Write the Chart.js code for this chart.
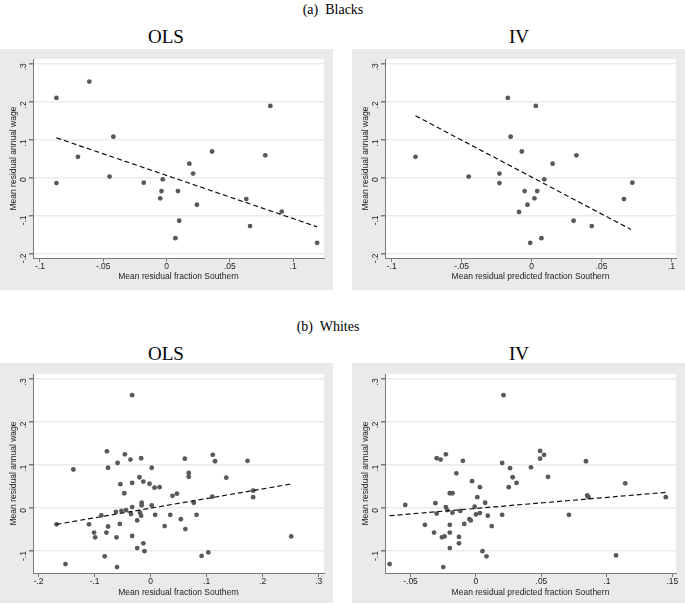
<!DOCTYPE html>
<html>
<head>
<meta charset="utf-8">
<script src="https://cdn.jsdelivr.net/npm/chart.js@4.4.1/dist/chart.umd.min.js"></script>
<style>
  body { margin: 0; background: #fff; }
  #page { position: relative; width: 685px; height: 606px; overflow: hidden; }
  canvas { position: absolute; background: #eaeaea; }
  .titre { position: absolute; font-family: "Liberation Serif", "DejaVu Serif", serif; color: #000; white-space: nowrap; transform: translate(-50%, -50%); }
  .grand { font-size: 14px; }
  .panel { font-size: 19px; }
</style>
</head>
<body>
<div id="page">
  <div class="titre grand" style="left:333px; top:10px;">(a)&nbsp; Blacks</div>
  <div class="titre panel" style="left:166px; top:37px;">OLS</div>
  <div class="titre panel" style="left:519px; top:37px;">IV</div>
  <canvas id="c-blacks-ols" width="333" height="241" style="left:0px; top:49px;"></canvas>
  <canvas id="c-blacks-iv" width="333" height="241" style="left:352px; top:49px;"></canvas>

  <div class="titre grand" style="left:328px; top:327px;">(b)&nbsp; Whites</div>
  <div class="titre panel" style="left:166px; top:354px;">OLS</div>
  <div class="titre panel" style="left:519px; top:354px;">IV</div>
  <canvas id="c-whites-ols" width="333" height="240" style="left:0px; top:363px;"></canvas>
  <canvas id="c-whites-iv" width="333" height="240" style="left:352px; top:363px;"></canvas>
</div>
<script>
// --- données ---
const ticksY = [-0.2, -0.1, 0, 0.1, 0.2, 0.3];
const labelsY = ["-.2", "-.1", "0", ".1", ".2", ".3"];
const ticksYBas = [-0.1, 0, 0.1, 0.2, 0.3];
const labelsYBas = ["-.1", "0", ".1", ".2", ".3"];

const ticksXBlacks = [-0.1, -0.05, 0, 0.05, 0.1];
const labelsXBlacks = ["-.1", "-.05", "0", ".05", ".1"];
const ticksXWhitesOls = [-0.2, -0.1, 0, 0.1, 0.2, 0.3];
const labelsXWhitesOls = ["-.2", "-.1", "0", ".1", ".2", ".3"];
const ticksXWhitesIv = [-0.05, 0, 0.05, 0.1, 0.15];
const labelsXWhitesIv = ["-.05", "0", ".05", ".1", ".15"];

const titreY = "Mean residual annual wage";
const titreXOls = "Mean residual fraction Southern";
const titreXIv = "Mean residual predicted fraction Southern";

// Blacks, OLS
const blacksOlsX = [-0.087, -0.087, -0.061, -0.070, -0.042, -0.045, -0.018, -0.003, -0.004, -0.005, 0.007, 0.009,
  0.010, 0.018, 0.021, 0.024, 0.036, 0.063, 0.066, 0.078, 0.082, 0.091, 0.119];
const blacksOlsY = [0.209, -0.015, 0.252, 0.054, 0.107, 0.002, -0.014, -0.005, -0.036, -0.055, -0.160, -0.036,
  -0.114, 0.036, 0.010, -0.072, 0.068, -0.057, -0.128, 0.058, 0.188, -0.090, -0.172];
const blacksOlsFitX = [-0.087, 0.119];
const blacksOlsFitY = [0.104, -0.130];

// Blacks, IV
const blacksIvX = [-0.083, -0.045, -0.023, -0.023, -0.017, -0.015, -0.009, -0.007, -0.005, -0.003, -0.001, 0.002,
  0.003, 0.004, 0.007, 0.009, 0.015, 0.030, 0.032, 0.043, 0.066, 0.072];
const blacksIvY = [0.054, 0.002, 0.010, -0.015, 0.209, 0.107, -0.091, 0.068, -0.036, -0.072, -0.172, -0.055,
  0.188, -0.036, -0.160, -0.005, 0.036, -0.114, 0.058, -0.128, -0.057, -0.014];
const blacksIvFitX = [-0.083, 0.071];
const blacksIvFitY = [0.162, -0.137];

// Whites, OLS
const whitesOlsX = [-0.033, -0.078, -0.046, -0.036, -0.017, -0.059, -0.076, -0.138, 0.002, -0.020, -0.013, -0.002,
  -0.033, -0.054, -0.047, 0.007, 0.016, -0.016, -0.016, 0.002, -0.033, -0.168, -0.110, -0.088, -0.076, -0.101,
  -0.099, -0.079, -0.061, -0.055, -0.033, -0.024, -0.024, -0.013, -0.011, -0.082, -0.152, -0.060, 0.025, 0.008,
  -0.062, -0.052, -0.044, -0.035, -0.019, -0.017, 0.061, 0.111, 0.115, 0.173, 0.068, 0.068, 0.135, 0.039,
  0.047, 0.077, 0.110, 0.183, 0.183, 0.035, 0.054, 0.082, 0.062, 0.251, 0.091, 0.103];
const whitesOlsY = [0.261, 0.131, 0.124, 0.112, 0.115, 0.104, 0.093, 0.089, 0.093, 0.071, 0.061, 0.056,
  0.058, 0.055, 0.034, 0.047, 0.048, 0.012, 0.006, 0.006, 0.002, -0.038, -0.038, -0.017, -0.043, -0.057,
  -0.068, -0.057, -0.068, -0.037, -0.065, -0.029, -0.093, -0.082, -0.100, -0.112, -0.130, -0.137, -0.042, -0.016,
  -0.009, -0.007, -0.005, -0.014, -0.011, -0.018, 0.114, 0.123, 0.108, 0.109, 0.081, 0.072, 0.070, 0.028,
  0.033, 0.012, 0.026, 0.040, 0.025, -0.016, -0.026, -0.016, -0.049, -0.066, -0.111, -0.103];
const whitesOlsFitX = [-0.168, 0.249];
const whitesOlsFitY = [-0.038, 0.055];

// Whites, IV
const whitesIvX = [0.021, -0.030, -0.027, -0.023, -0.010, -0.015, 0.020, 0.026, 0.028, 0.031, 0.025, -0.003,
  0.003, -0.020, -0.018, 0.001, -0.031, -0.054, 0.007, -0.023, -0.001, -0.022, -0.030, -0.018, -0.012,
  0.000, 0.003, 0.009, 0.020, -0.039, -0.020, -0.009, -0.005, -0.004, 0.012, -0.032, -0.020, -0.026, -0.024,
  -0.013, -0.013, -0.020, 0.005, 0.008, -0.066, -0.025, 0.049, 0.052, 0.049, 0.042, 0.084, 0.055, 0.114,
  0.085, 0.086, 0.145, 0.071, 0.107];
const whitesIvY = [0.261, 0.115, 0.112, 0.124, 0.109, 0.080, 0.104, 0.092, 0.071, 0.058, 0.048, 0.062,
  0.048, 0.034, 0.034, 0.025, 0.011, 0.007, 0.012, 0.002, 0.003, -0.005, -0.013, -0.011, -0.007,
  -0.015, -0.012, -0.018, -0.016, -0.039, -0.039, -0.037, -0.026, -0.029, -0.042, -0.057, -0.057, -0.068, -0.066,
  -0.067, -0.082, -0.093, -0.100, -0.112, -0.130, -0.137, 0.132, 0.123, 0.114, 0.094, 0.108, 0.072, 0.057,
  0.029, 0.025, 0.025, -0.016, -0.110];
const whitesIvFitX = [-0.066, 0.145];
const whitesIvFitY = [-0.018, 0.036];

// --- construction ---
const grisAxe = "#7a7a7a";
const police = "'Liberation Sans', Arial, sans-serif";

const fondBlanc = {
  id: "fondBlanc",
  beforeDraw(chart) {
    const { ctx, chartArea: a } = chart;
    ctx.save();
    ctx.fillStyle = "#ffffff";
    ctx.fillRect(a.left, a.top, a.right - a.left, a.bottom - a.top);
    ctx.restore();
  }
};

function paires(xs, ys) {
  return xs.map((x, i) => ({ x, y: ys[i] }));
}

function panneau(id, p) {
  new Chart(document.getElementById(id), {
    type: "scatter",
    data: {
      datasets: [
        { data: paires(p.xs, p.ys), backgroundColor: "#595959", borderWidth: 0, pointRadius: 2.4, order: 2 },
        { type: "line", data: paires(p.fitX, p.fitY), borderColor: "#111", borderWidth: 1.2, borderDash: [5, 3],
          pointRadius: 0, fill: false, tension: 0, order: 1 }
      ]
    },
    options: {
      responsive: false,
      animation: false,
      layout: { padding: { top: p.haut, right: 9, left: 0, bottom: 0 } },
      plugins: { legend: { display: false }, tooltip: { enabled: false } },
      scales: {
        x: {
          type: "linear", min: p.xMin, max: p.xMax,
          afterBuildTicks: (axe) => { axe.ticks = p.ticksX.map((v) => ({ value: v })); },
          afterFit: (axe) => { axe.height = p.basX; },
          ticks: { callback: (v, i) => p.labelsX[i], font: { family: police, size: 8.5 }, color: "#222", padding: 0, maxRotation: 0 },
          grid: { drawOnChartArea: false, tickLength: 4, tickColor: grisAxe },
          border: { color: grisAxe, width: 1 },
          title: { display: true, text: p.titreX, font: { family: police, size: 8.5 }, color: "#222", padding: { top: 0, bottom: p.titreBas } }
        },
        y: {
          type: "linear", min: p.yMin, max: p.yMax,
          afterBuildTicks: (axe) => { axe.ticks = p.ticksY.map((v) => ({ value: v })); },
          afterFit: (axe) => { axe.width = 33; },
          ticks: { callback: (v, i) => p.labelsY[i], font: { family: police, size: 8.5 }, color: "#222", padding: 5, minRotation: 90, maxRotation: 90 },
          grid: { color: "#ebebeb", lineWidth: 1.5, tickLength: 4, tickColor: grisAxe },
          border: { color: grisAxe, width: 1 },
          title: { display: true, text: titreY, font: { family: police, size: 8.5 }, color: "#222", padding: { top: 8.5, bottom: 0 } }
        }
      }
    },
    plugins: [fondBlanc]
  });
}

panneau("c-blacks-ols", {
  xs: blacksOlsX, ys: blacksOlsY, fitX: blacksOlsFitX, fitY: blacksOlsFitY,
  xMin: -0.1055, xMax: 0.1244, yMin: -0.212, yMax: 0.311, haut: 10, basX: 32, titreBas: 8.5,
  ticksX: ticksXBlacks, labelsX: labelsXBlacks, ticksY: ticksY, labelsY: labelsY, titreX: titreXOls
});
panneau("c-blacks-iv", {
  xs: blacksIvX, ys: blacksIvY, fitX: blacksIvFitX, fitY: blacksIvFitY,
  xMin: -0.1048, xMax: 0.1032, yMin: -0.212, yMax: 0.311, haut: 10, basX: 32, titreBas: 8.5,
  ticksX: ticksXBlacks, labelsX: labelsXBlacks, ticksY: ticksY, labelsY: labelsY, titreX: titreXIv
});
panneau("c-whites-ols", {
  xs: whitesOlsX, ys: whitesOlsY, fitX: whitesOlsFitX, fitY: whitesOlsFitY,
  xMin: -0.210, xMax: 0.3095, yMin: -0.1506, yMax: 0.31, haut: 11, basX: 30, titreBas: 5,
  ticksX: ticksXWhitesOls, labelsX: labelsXWhitesOls, ticksY: ticksYBas, labelsY: labelsYBas, titreX: titreXOls
});
panneau("c-whites-iv", {
  xs: whitesIvX, ys: whitesIvY, fitX: whitesIvFitX, fitY: whitesIvFitY,
  xMin: -0.0695, xMax: 0.1528, yMin: -0.1506, yMax: 0.31, haut: 11, basX: 30, titreBas: 5,
  ticksX: ticksXWhitesIv, labelsX: labelsXWhitesIv, ticksY: ticksYBas, labelsY: labelsYBas, titreX: titreXIv
});
</script>
</body>
</html>
